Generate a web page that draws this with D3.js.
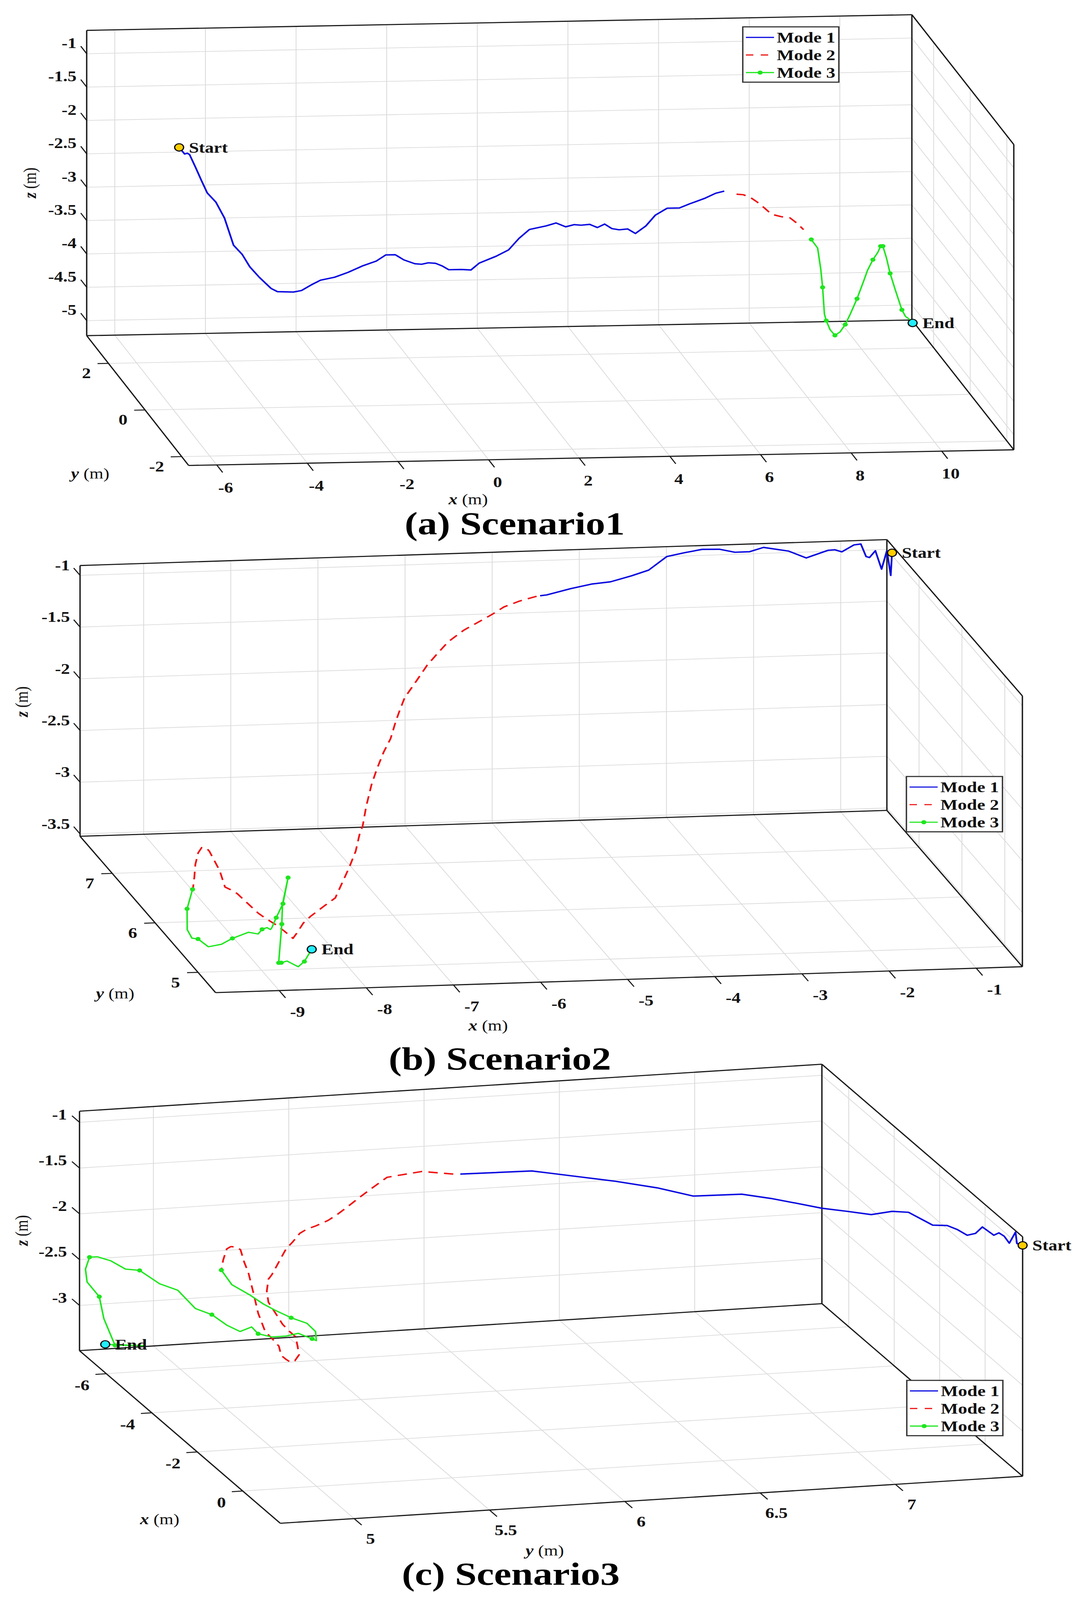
<!DOCTYPE html>
<html>
<head>
<meta charset="utf-8">
<script src="https://cdn.jsdelivr.net/npm/d3@7"></script>
<style>
  html, body { margin: 0; padding: 0; background: #fff; overflow: hidden; }
  svg { display: block; }
  svg text { font-family: "Liberation Serif", "Times New Roman", serif; }
</style>
</head>
<body>
<svg id="chart" width="2786" height="5005" viewBox="0 0 2786 5005" preserveAspectRatio="none"></svg>
<script>
var modeNames = ['Mode 1', 'Mode 2', 'Mode 3']
var titles = ['(a) Scenario1', '(b) Scenario2', '(c) Scenario3']

// Scenario 1 : points are [x, y, z] in metres
var s1XLim = [-6.62, 11.59]
var s1YLim = [-2.38, 3.19]
var s1ZLim = [-5.225, -0.65]
var s1XTicks = [-6, -4, -2, 0, 2, 4, 6, 8, 10]
var s1YTicks = [-2, 0, 2]
var s1ZTicks = [-5, -4.5, -4, -3.5, -3, -2.5, -2, -1.5, -1]
var s1Mode1 = [
  [-4.58, 3.19, -2.43], [-4.52, 3.19, -2.48], [-4.46, 3.19, -2.53], [-4.40, 3.19, -2.52], [-4.35, 3.19, -2.54],
  [-4.22, 3.19, -2.73], [-4.09, 3.19, -2.93], [-3.96, 3.19, -3.12], [-3.77, 3.19, -3.26], [-3.58, 3.19, -3.50],
  [-3.38, 3.19, -3.91], [-3.19, 3.19, -4.05], [-3.02, 3.19, -4.24], [-2.81, 3.19, -4.40], [-2.55, 3.19, -4.57],
  [-2.41, 3.19, -4.62], [-2.06, 3.19, -4.63], [-1.88, 3.19, -4.61], [-1.67, 3.19, -4.53], [-1.46, 3.19, -4.46],
  [-1.15, 3.19, -4.42], [-0.85, 3.19, -4.35], [-0.54, 3.19, -4.26], [-0.23, 3.19, -4.19], [-0.02, 3.19, -4.10],
  [0.19, 3.19, -4.10], [0.38, 3.19, -4.18], [0.62, 3.19, -4.24], [0.77, 3.19, -4.25], [0.92, 3.19, -4.23],
  [1.08, 3.19, -4.24], [1.22, 3.19, -4.28], [1.37, 3.19, -4.34], [1.65, 3.19, -4.34], [1.86, 3.19, -4.35],
  [2.04, 3.19, -4.25], [2.42, 3.19, -4.15], [2.69, 3.19, -4.06], [2.92, 3.19, -3.89], [3.15, 3.19, -3.76],
  [3.52, 3.19, -3.71], [3.74, 3.19, -3.67], [3.95, 3.19, -3.73], [4.14, 3.19, -3.70], [4.29, 3.19, -3.71],
  [4.48, 3.19, -3.70], [4.65, 3.19, -3.75], [4.81, 3.19, -3.70], [4.97, 3.19, -3.77], [5.13, 3.19, -3.79],
  [5.32, 3.19, -3.78], [5.49, 3.19, -3.85], [5.72, 3.19, -3.74], [5.93, 3.19, -3.58], [6.19, 3.19, -3.48],
  [6.46, 3.19, -3.48], [6.69, 3.19, -3.42], [7.03, 3.19, -3.34], [7.26, 3.19, -3.27], [7.45, 3.19, -3.24]
]
var s1Mode2 = [
  [7.72, 3.19, -3.29], [7.87, 3.19, -3.30], [8.02, 3.19, -3.34], [8.17, 3.19, -3.41], [8.33, 3.19, -3.50],
  [8.49, 3.19, -3.60], [8.71, 3.19, -3.64], [8.90, 3.19, -3.66], [9.05, 3.19, -3.74], [9.20, 3.19, -3.84]
]
var s1Mode3 = [
  [9.37, 3.19, -3.99], [9.51, 3.19, -4.12], [9.58, 3.19, -4.44], [9.62, 3.19, -4.71], [9.66, 3.19, -5.11],
  [9.70, 3.19, -5.21], [9.64, 2.83, -5.22], [9.65, 2.59, -5.22], [9.82, 2.73, -5.22], [10.06, 3.04, -5.22],
  [10.23, 3.19, -5.12], [10.38, 3.19, -4.89], [10.53, 3.19, -4.62], [10.61, 3.19, -4.47], [10.73, 3.19, -4.31],
  [10.84, 3.19, -4.20], [10.90, 3.19, -4.11], [10.95, 3.19, -4.11], [11.03, 3.19, -4.29], [11.11, 3.19, -4.52],
  [11.22, 3.19, -4.76], [11.37, 3.19, -5.07], [11.45, 3.19, -5.17], [11.51, 3.19, -5.20], [11.55, 3.05, -5.22]
]
var s1Marks = [0, 3, 5, 7, 9, 11, 14, 16, 17, 19, 21]

// Scenario 2
var s2XLim = [-9.73, -0.47]
var s2YLim = [4.59, 7.75]
var s2ZLim = [-3.523, -0.905]
var s2XTicks = [-9, -8, -7, -6, -5, -4, -3, -2, -1]
var s2YTicks = [5, 6, 7]
var s2ZTicks = [-3.5, -3, -2.5, -2, -1.5, -1]
var s2Mode1 = [
  [-0.47, 7.63, -0.975], [-0.47, 7.66, -1.208], [-0.47, 7.75, -1.012], [-0.531, 7.75, -1.189], [-0.602, 7.75, -1.009],
  [-0.67, 7.75, -1.073], [-0.709, 7.75, -1.062], [-0.769, 7.75, -0.939], [-0.848, 7.75, -0.946], [-0.987, 7.75, -1.009],
  [-1.065, 7.75, -0.987], [-1.145, 7.75, -0.990], [-1.395, 7.75, -1.057], [-1.60, 7.75, -0.985], [-1.886, 7.75, -0.942],
  [-2.044, 7.75, -0.979], [-2.215, 7.75, -0.980], [-2.393, 7.75, -0.946], [-2.59, 7.75, -0.942], [-2.789, 7.75, -0.968],
  [-2.995, 7.75, -1.0], [-3.204, 7.75, -1.126], [-3.403, 7.75, -1.176], [-3.641, 7.75, -1.227], [-3.859, 7.75, -1.243],
  [-4.096, 7.75, -1.280], [-4.374, 7.75, -1.334], [-4.45, 7.75, -1.34]
]
var s2Mode2 = [
  [-4.49, 7.75, -1.344], [-4.685, 7.75, -1.385], [-4.865, 7.75, -1.437], [-5.006, 7.75, -1.508], [-5.126, 7.75, -1.561],
  [-5.325, 7.75, -1.649], [-5.505, 7.75, -1.757], [-5.626, 7.75, -1.865], [-5.745, 7.75, -1.975], [-5.866, 7.75, -2.121],
  [-6.006, 7.75, -2.286], [-6.066, 7.75, -2.416], [-6.106, 7.75, -2.508], [-6.166, 7.75, -2.675], [-6.246, 7.75, -2.804],
  [-6.326, 7.75, -2.970], [-6.386, 7.75, -3.118], [-6.446, 7.75, -3.323], [-6.486, 7.75, -3.509],
  [-6.60, 7.595, -3.52], [-6.80, 7.276, -3.52], [-7.03, 6.96, -3.52], [-7.32, 6.58, -3.52], [-7.48, 6.37, -3.52],
  [-7.68, 6.22, -3.52], [-7.935, 6.023, -3.52], [-8.077, 5.899, -3.52], [-8.257, 5.695, -3.52], [-8.344, 5.602, -3.52],
  [-8.37, 5.751, -3.52], [-8.404, 5.884, -3.52], [-8.458, 6.02, -3.52], [-8.488, 6.12, -3.52], [-8.507, 6.286, -3.52],
  [-8.533, 6.518, -3.52], [-8.571, 6.602, -3.52], [-8.606, 6.654, -3.52], [-8.507, 6.977, -3.52], [-8.47, 7.173, -3.52],
  [-8.434, 7.368, -3.52], [-8.437, 7.442, -3.52], [-8.485, 7.444, -3.52], [-8.574, 7.344, -3.52], [-8.716, 7.121, -3.52],
  [-8.854, 6.865, -3.52], [-8.98, 6.642, -3.52]
]
var s2Mode3 = [
  [-8.99, 6.63, -3.52], [-9.24, 6.25, -3.52], [-9.44, 5.84, -3.52], [-9.47, 5.67, -3.52], [-9.41, 5.65, -3.52],
  [-9.37, 5.49, -3.52], [-9.20, 5.53, -3.52], [-9.02, 5.64, -3.52], [-8.78, 5.75, -3.52], [-8.69, 5.71, -3.52],
  [-8.60, 5.80, -3.52], [-8.53, 5.83, -3.52], [-8.51, 5.79, -3.52], [-8.48, 5.82, -3.52], [-8.33, 6.02, -3.52],
  [-8.12, 6.29, -3.52], [-7.81, 6.80, -3.52], [-8.13, 6.28, -3.52], [-8.33, 5.89, -3.52], [-8.74, 5.13, -3.52],
  [-8.71, 5.13, -3.52], [-8.63, 5.16, -3.52], [-8.56, 5.04, -3.52], [-8.44, 5.14, -3.52], [-8.24, 5.375, -3.52]
]
var s2Marks = [0, 1, 4, 7, 10, 14, 15, 16, 18, 19, 20, 23]

// Scenario 3 (y runs along the back wall, x runs into depth)
var s3XLim = [-7.18, 1.65]
var s3YLim = [4.727, 7.47]
var s3ZLim = [-3.494, -0.879]
var s3XTicks = [-6, -4, -2, 0]
var s3YTicks = [5, 5.5, 6, 6.5, 7]
var s3ZTicks = [-3, -2.5, -2, -1.5, -1]
var s3Mode1 = [
  [1.65, 7.47, -0.972], [1.399, 7.47, -1.005], [1.337, 7.47, -0.894], [1.065, 7.47, -1.073], [0.838, 7.47, -1.045],
  [0.609, 7.47, -1.058], [0.382, 7.47, -1.132], [-0.119, 7.47, -1.149], [-0.423, 7.47, -1.284], [-0.788, 7.47, -1.382],
  [-1.213, 7.47, -1.412], [-1.669, 7.47, -1.464], [-2.306, 7.47, -1.596], [-3.37, 7.47, -1.683], [-4.098, 7.47, -1.828],
  [-5.009, 7.47, -2.058], [-6.072, 7.47, -2.249], [-7.18, 7.47, -2.452], [-7.18, 7.372, -2.377], [-7.18, 7.282, -2.310],
  [-7.18, 7.174, -2.243], [-7.18, 6.995, -2.230], [-7.18, 6.861, -2.115], [-7.18, 6.709, -2.016], [-7.18, 6.581, -1.945],
  [-7.18, 6.453, -1.874], [-7.18, 6.398, -1.844], [-7.18, 6.134, -1.829]
]
var s3Mode2 = [
  [-7.18, 6.108, -1.824], [-7.18, 5.992, -1.774], [-7.18, 5.902, -1.801], [-7.18, 5.863, -1.814], [-7.18, 5.806, -1.924],
  [-7.18, 5.761, -2.015], [-7.18, 5.722, -2.098], [-7.18, 5.677, -2.190], [-7.18, 5.645, -2.244], [-7.18, 5.599, -2.296],
  [-7.18, 5.567, -2.324], [-7.18, 5.541, -2.365], [-7.18, 5.516, -2.450], [-7.18, 5.49, -2.526], [-7.18, 5.464, -2.661],
  [-7.18, 5.438, -2.796], [-7.18, 5.425, -2.844], [-7.18, 5.419, -2.973], [-7.18, 5.425, -3.095], [-7.18, 5.451, -3.220],
  [-7.18, 5.477, -3.345], [-7.18, 5.503, -3.430], [-7.18, 5.526, -3.494],
  [-6.559, 5.483, -3.494], [-6.32, 5.466, -3.494], [-6.051, 5.428, -3.494], [-5.979, 5.407, -3.494], [-6.147, 5.403, -3.494],
  [-6.343, 5.402, -3.494], [-6.792, 5.431, -3.494],
  [-7.18, 5.438, -3.494], [-7.18, 5.413, -3.413], [-7.18, 5.387, -3.208], [-7.18, 5.368, -2.964], [-7.18, 5.351, -2.760],
  [-7.18, 5.335, -2.637], [-7.18, 5.322, -2.504], [-7.18, 5.309, -2.472], [-7.18, 5.286, -2.462], [-7.18, 5.271, -2.485],
  [-7.18, 5.258, -2.602], [-7.18, 5.251, -2.712]
]
var s3Mode3 = [
  [-7.18, 5.251, -2.712], [-7.18, 5.290, -2.879], [-7.18, 5.355, -3.001], [-7.18, 5.406, -3.111], [-7.18, 5.451, -3.190],
  [-7.18, 5.509, -3.281], [-7.18, 5.567, -3.352], [-7.18, 5.599, -3.448], [-6.941, 5.582, -3.494], [-7.042, 5.575, -3.494],
  [-7.18, 5.535, -3.456], [-7.18, 5.49, -3.478], [-7.18, 5.438, -3.478], [-7.18, 5.387, -3.433], [-7.18, 5.363, -3.354],
  [-7.18, 5.32, -3.396], [-7.18, 5.271, -3.317], [-7.18, 5.216, -3.192], [-7.18, 5.155, -3.114], [-7.18, 5.090, -2.902],
  [-7.18, 5.023, -2.819], [-7.18, 4.949, -2.659], [-7.18, 4.897, -2.635], [-7.18, 4.843, -2.535], [-7.18, 4.794, -2.482],
  [-7.18, 4.764, -2.480], [-7.18, 4.749, -2.608], [-7.18, 4.755, -2.749], [-7.18, 4.80, -2.918], [-7.18, 4.817, -3.161],
  [-7.18, 4.858, -3.459], [-7.18, 4.967, -3.484], [-7.18, 4.822, -3.443]
]
var s3Marks = [0, 5, 9, 13, 17, 21, 25, 28, 30]

// line styles for the three modes
var modeStyle = [
  { color: '#0a0ae0', width: 4.5, dash: null, legendDash: null },
  { color: '#ee1414', width: 4.5, dash: '24,16', legendDash: '19,19' },
  { color: '#1ee61e', width: 4, dash: null, legendDash: null }
]

// panel layout: h = axis along the back wall, d = depth axis, back wall at the 'dBack' end of d
var panels = [
  { lim: [s1XLim, s1YLim, s1ZLim], ticks: [s1XTicks, s1YTicks, s1ZTicks], modes: [s1Mode1, s1Mode2, s1Mode3], marks: s1Marks,
    h: 0, d: 1, dBack: 'max', origin: [222, 1050], eh: [2113, -49], ed: [261, 406], height: 955,
    zLab: [-26, -34], hLab: [23, 70], dLab: [-45, 30],
    zTitle: [76, 572], dTitle: [231, 1481], hTitle: [1199, 1562], legend: [1902, 84], title: [1318, 1672] },
  { lim: [s2XLim, s2YLim, s2ZLim], ticks: [s2XTicks, s2YTicks, s2ZTicks], modes: [s2Mode1, s2Mode2, s2Mode3], marks: s2Marks,
    h: 0, d: 1, dBack: 'max', origin: [205, 2616], eh: [2066, -81], ed: [347, 489], height: 847,
    zLab: [-26, -32], hLab: [47, 66], dLab: [-46, 31],
    zTitle: [55, 2195], dTitle: [295, 3107], hTitle: [1250, 3207], legend: [2321, 2429], title: [1280, 3346] },
  { lim: [s3XLim, s3YLim, s3ZLim], ticks: [s3XTicks, s3YTicks, s3ZTicks], modes: [s3Mode1, s3Mode2, s3Mode3], marks: s3Marks,
    h: 1, d: 0, dBack: 'min', origin: [203.6, 4225], eh: [1901, -147], ed: [514, 540], height: 749,
    zLab: [-32, -25], hLab: [42, 62], dLab: [-43, 35],
    zTitle: [55, 3849], dTitle: [409, 4752], hTitle: [1395, 4850], legend: [2322, 4318], title: [1308, 4957] }
]

var axisNames = ['x', 'y', 'z']
var svg = d3.select('#chart')
var line = d3.line()

// the browser window may be shorter than the figure: fit the whole figure into it
svg.attr('width', window.innerWidth).attr('height', window.innerHeight)

function unit(v) {
  var l = Math.hypot(v[0], v[1])
  return [v[0] / l, v[1] / l]
}

function drawPanel(p, idx) {
  var H = d3.scaleLinear().domain(p.lim[p.h]).range([0, 1])
  var dDom = p.dBack === 'max' ? [p.lim[p.d][1], p.lim[p.d][0]] : p.lim[p.d]
  var D = d3.scaleLinear().domain(dDom).range([0, 1])
  var Z = d3.scaleLinear().domain(p.lim[2]).range([0, 1])

  // normalised box coords -> screen
  function norm(a, b, c) {
    return [p.origin[0] + a * p.eh[0] + b * p.ed[0], p.origin[1] + a * p.eh[1] + b * p.ed[1] - c * p.height]
  }
  function proj(pt) {
    return norm(H(pt[p.h]), D(pt[p.d]), Z(pt[2]))
  }

  var g = svg.append('g').attr('class', 'panel-' + idx)
  var grid = g.append('g')
    .attr('fill', 'none')
    .attr('stroke', '#dcdcdc')
    .attr('stroke-width', 2.2)

  var hTicks = p.ticks[p.h]
  var dTicks = p.ticks[p.d]
  var zTicks = p.ticks[2]

  // back wall, floor and right wall grids
  hTicks.forEach(function(t) {
    grid.append('path').attr('d', line([norm(H(t), 0, 0), norm(H(t), 0, 1)]))
    grid.append('path').attr('d', line([norm(H(t), 0, 0), norm(H(t), 1, 0)]))
  })
  zTicks.forEach(function(t) {
    grid.append('path').attr('d', line([norm(0, 0, Z(t)), norm(1, 0, Z(t))]))
    grid.append('path').attr('d', line([norm(1, 0, Z(t)), norm(1, 1, Z(t))]))
  })
  dTicks.forEach(function(t) {
    grid.append('path').attr('d', line([norm(0, D(t), 0), norm(1, D(t), 0)]))
    grid.append('path').attr('d', line([norm(1, D(t), 0), norm(1, D(t), 1)]))
  })

  // box outline
  var edges = [
    [[0, 0, 0], [1, 0, 0]], [[1, 0, 0], [1, 0, 1]], [[1, 0, 1], [0, 0, 1]], [[0, 0, 1], [0, 0, 0]],
    [[1, 0, 1], [1, 1, 1]], [[1, 1, 1], [1, 1, 0]], [[1, 1, 0], [1, 0, 0]],
    [[1, 1, 0], [0, 1, 0]], [[0, 1, 0], [0, 0, 0]]
  ]
  g.append('g')
    .selectAll('path')
    .data(edges)
    .enter()
    .append('path')
    .attr('d', function(e) { return line(e.map(function(c) { return norm(c[0], c[1], c[2]) })) })
    .attr('stroke', '#1a1a1a')
    .attr('stroke-width', 3.5)
    .attr('fill', 'none')

  var ud = unit(p.ed)
  var uh = unit(p.eh)
  var tickLen = 28
  var ticks = g.append('g').attr('stroke', '#1a1a1a').attr('stroke-width', 3)
  var labs = g.append('g')
    .attr('font-size', 46)
    .attr('font-weight', 'bold')
    .attr('fill', '#111')

  zTicks.forEach(function(t) {
    var b = norm(0, 0, Z(t))
    ticks.append('path').attr('d', line([b, [b[0] - ud[0] * tickLen, b[1] - ud[1] * tickLen]]))
    labs.append('text')
      .attr('x', b[0] + p.zLab[0]).attr('y', b[1] + p.zLab[1])
      .attr('text-anchor', 'end').attr('dy', '0.35em')
      .text(t)
  })
  hTicks.forEach(function(t) {
    var b = norm(H(t), 1, 0)
    ticks.append('path').attr('d', line([b, [b[0] + ud[0] * tickLen, b[1] + ud[1] * tickLen]]))
    labs.append('text')
      .attr('x', b[0] + p.hLab[0]).attr('y', b[1] + p.hLab[1])
      .attr('text-anchor', 'middle').attr('dy', '0.35em')
      .text(t)
  })
  dTicks.forEach(function(t) {
    var b = norm(0, D(t), 0)
    ticks.append('path').attr('d', line([b, [b[0] - uh[0] * tickLen, b[1] - uh[1] * tickLen]]))
    labs.append('text')
      .attr('x', b[0] + p.dLab[0]).attr('y', b[1] + p.dLab[1])
      .attr('text-anchor', 'end').attr('dy', '0.35em')
      .text(t)
  })

  // axis titles
  function axisTitle(pos, name, rotate) {
    var t = g.append('text')
      .attr('x', pos[0]).attr('y', pos[1])
      .attr('text-anchor', 'middle').attr('dy', '0.35em')
      .attr('font-size', 46).attr('fill', '#111')
    if (rotate) t.attr('transform', 'rotate(-90,' + pos[0] + ',' + pos[1] + ')')
    t.append('tspan').attr('font-style', 'italic').attr('font-weight', 'bold').text(name)
    t.append('tspan').text(' (m)')
  }
  axisTitle(p.zTitle, 'z', true)
  axisTitle(p.hTitle, axisNames[p.h], false)
  axisTitle(p.dTitle, axisNames[p.d], false)

  // trajectories
  var traj = g.append('g').attr('fill', 'none')
  p.modes.forEach(function(pts, i) {
    var s = modeStyle[i]
    traj.append('path')
      .attr('d', line(pts.map(proj)))
      .attr('stroke', s.color)
      .attr('stroke-width', s.width)
      .attr('stroke-dasharray', s.dash)
      .attr('stroke-linejoin', 'round')
  })
  g.append('g')
    .selectAll('circle')
    .data(p.marks.map(function(k) { return p.modes[2][k] }))
    .enter()
    .append('circle')
    .attr('cx', function(d) { return proj(d)[0] })
    .attr('cy', function(d) { return proj(d)[1] })
    .attr('r', 6.5)
    .attr('fill', modeStyle[2].color)

  // start / end markers
  var ends = [
    { pt: p.modes[0][0], fill: '#ffcc00', label: 'Start' },
    { pt: p.modes[2][p.modes[2].length - 1], fill: '#22eeff', label: 'End' }
  ]
  ends.forEach(function(e) {
    var c = proj(e.pt)
    g.append('circle')
      .attr('cx', c[0]).attr('cy', c[1]).attr('r', 11.5)
      .attr('fill', e.fill).attr('stroke', '#000').attr('stroke-width', 3)
    g.append('text')
      .attr('x', c[0] + 25).attr('y', c[1])
      .attr('dy', '0.35em')
      .attr('font-size', 46).attr('font-weight', 'bold').attr('fill', '#111')
      .text(e.label)
  })

  // legend
  var lg = g.append('g').attr('transform', 'translate(' + p.legend[0] + ',' + p.legend[1] + ')')
  lg.append('rect')
    .attr('width', 246).attr('height', 173)
    .attr('fill', '#fff').attr('stroke', '#333').attr('stroke-width', 3.5)
  modeNames.forEach(function(name, i) {
    var s = modeStyle[i]
    var y = 33 + i * 55
    lg.append('line')
      .attr('x1', 8).attr('x2', 80).attr('y1', y).attr('y2', y)
      .attr('stroke', s.color).attr('stroke-width', 3.5)
      .attr('stroke-dasharray', s.legendDash)
    if (i === 2) {
      lg.append('circle').attr('cx', 44.5).attr('cy', y).attr('r', 6.5).attr('fill', s.color)
    }
    lg.append('text')
      .attr('x', 87).attr('y', y).attr('dy', '0.35em')
      .attr('font-size', 47).attr('font-weight', 'bold').attr('fill', '#111')
      .text(name)
  })

  // panel caption
  g.append('text')
    .attr('x', p.title[0]).attr('y', p.title[1])
    .attr('text-anchor', 'middle')
    .attr('font-size', 100).attr('font-weight', 'bold').attr('fill', '#000')
    .text(titles[idx])
}

panels.forEach(drawPanel)
</script>
</body>
</html>
